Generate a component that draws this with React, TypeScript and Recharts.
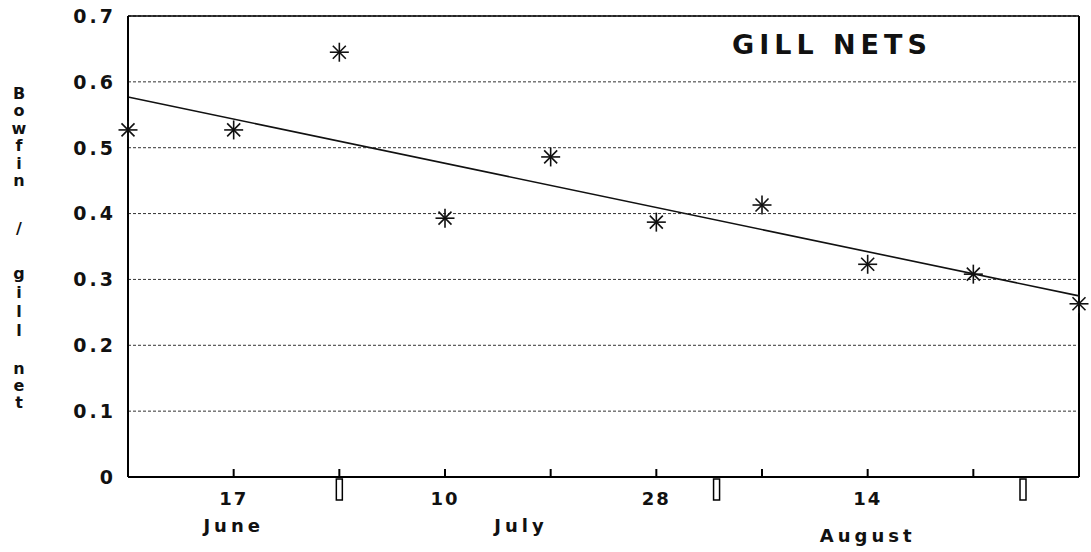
import {
  ComposedChart,
  Line,
  Scatter,
  XAxis,
  YAxis,
  CartesianGrid,
  ReferenceLine,
  ReferenceDot,
  Customized,
} from "recharts";

const sampleIndex = [0, 1, 2, 3, 4, 5, 6, 7, 8, 9];
const bowfinPerNet = [0.527, 0.527, 0.645, 0.393, 0.486, 0.387, 0.413, 0.323, 0.308, 0.263];

const trendIndex = [0, 9];
const trendValues = [0.577, 0.275];

const dayTicks = [1, 2, 3, 4, 5, 6, 7, 8];
const dayLabels = ["17", "", "10", "", "28", "", "14", ""];

const monthBreaks = [2, 5.57, 8.47];
const monthNames = ["June", "July", "August"];
const monthCenters = [1, 3.72, 7];

const yTicks = [0, 0.1, 0.2, 0.3, 0.4, 0.5, 0.6, 0.7];
const yLabelWords = ["Bowfin", "/", "gill", "net"];
const title = "GILL NETS";

const FONT = "'DejaVu Sans', sans-serif";

const points = sampleIndex.map((x, i) => ({ x, y: bowfinPerNet[i] }));
const trend = trendIndex.map((x, i) => ({ x, y: trendValues[i] }));

function Star({ cx, cy }: any) {
  const r = 9.5;
  const d = 6.5;
  return (
    <g stroke="#111" strokeWidth={1.6}>
      <line x1={cx - r} y1={cy} x2={cx + r} y2={cy} />
      <line x1={cx} y1={cy - r} x2={cx} y2={cy + r} />
      <line x1={cx - d} y1={cy - d} x2={cx + d} y2={cy + d} />
      <line x1={cx - d} y1={cy + d} x2={cx + d} y2={cy - d} />
    </g>
  );
}

function DayTick({ x, y, payload }: any) {
  const label = dayLabels[dayTicks.indexOf(payload.value)] ?? "";
  return (
    <g>
      <line x1={x} y1={y} x2={x} y2={y - 8} stroke="#000" strokeWidth={2} />
      <text
        x={x}
        y={y + 28}
        textAnchor="middle"
        fontFamily={FONT}
        fontWeight="bold"
        fontSize={18}
        letterSpacing={2}
        fill="#111"
      >
        {label}
      </text>
    </g>
  );
}

function ValueTick({ x, y, payload }: any) {
  return (
    <text
      x={x}
      y={y}
      dy="0.36em"
      textAnchor="end"
      fontFamily={FONT}
      fontWeight="bold"
      fontSize={19}
      letterSpacing={3}
      fill="#111"
    >
      {String(payload.value)}
    </text>
  );
}

// vertical stacked axis title + chart title
function Labels() {
  const wordTop = [93, 228, 273, 368];
  const step = [17.5, 0, 19, 17];
  return (
    <g fontFamily={FONT} fontWeight="bold" fill="#111">
      {yLabelWords.map((w, wi) =>
        w.split("").map((ch, ci) => (
          <text
            key={wi + "-" + ci}
            x={19}
            y={wordTop[wi] + ci * step[wi]}
            dy="0.36em"
            textAnchor="middle"
            fontSize={16}
          >
            {ch}
          </text>
        ))
      )}
      <text x={732} y={44} dy="0.36em" fontSize={27} letterSpacing={5}>
        {title}
      </text>
    </g>
  );
}

export default function App() {
  return (
    <div style={{ position: "fixed", left: 0, top: 0, background: "#fff" }}>
      <ComposedChart
        width={1091}
        height={552}
        margin={{ top: 16, right: 12, left: 0, bottom: 0 }}
      >
        <CartesianGrid
          vertical={false}
          stroke="#333"
          strokeDasharray="3 2"
          strokeWidth={1}
        />
        <XAxis
          type="number"
          dataKey="x"
          domain={[0, 9]}
          ticks={dayTicks}
          interval={0}
          height={75}
          tickSize={0}
          tickMargin={0}
          tickLine={false}
          axisLine={{ stroke: "#000", strokeWidth: 2 }}
          tick={<DayTick />}
        />
        <YAxis
          type="number"
          domain={[0, 0.7]}
          ticks={yTicks}
          interval={0}
          width={128}
          tickSize={0}
          tickMargin={12}
          tickLine={false}
          axisLine={{ stroke: "#000", strokeWidth: 2 }}
          tick={<ValueTick />}
        />
        <ReferenceLine y={0.7} stroke="#000" strokeWidth={1.6} />
        <ReferenceLine x={9} stroke="#000" strokeWidth={2} />
        {monthBreaks.map((b) => (
          <ReferenceDot
            key={"b" + b}
            x={b}
            y={0}
            r={0}
            shape={(p: any) => (
              <rect
                x={p.cx - 3}
                y={p.cy + 2}
                width={6}
                height={21}
                fill="#fff"
                stroke="#000"
                strokeWidth={1.5}
              />
            )}
          />
        ))}
        {monthNames.map((m, i) => (
          <ReferenceDot
            key={m}
            x={monthCenters[i]}
            y={0}
            r={0}
            shape={(p: any) => (
              <text
                x={p.cx}
                y={p.cy + (i === 2 ? 65 : 55)}
                textAnchor="middle"
                fontFamily={FONT}
                fontWeight="bold"
                fontSize={18}
                letterSpacing={4}
                fill="#111"
              >
                {m}
              </text>
            )}
          />
        ))}
        <Line
          data={trend}
          dataKey="y"
          type="linear"
          stroke="#111"
          strokeWidth={1.6}
          dot={false}
          isAnimationActive={false}
        />
        <Scatter
          data={points}
          dataKey="y"
          shape={<Star />}
          isAnimationActive={false}
        />
        <Customized component={Labels} />
      </ComposedChart>
    </div>
  );
}
